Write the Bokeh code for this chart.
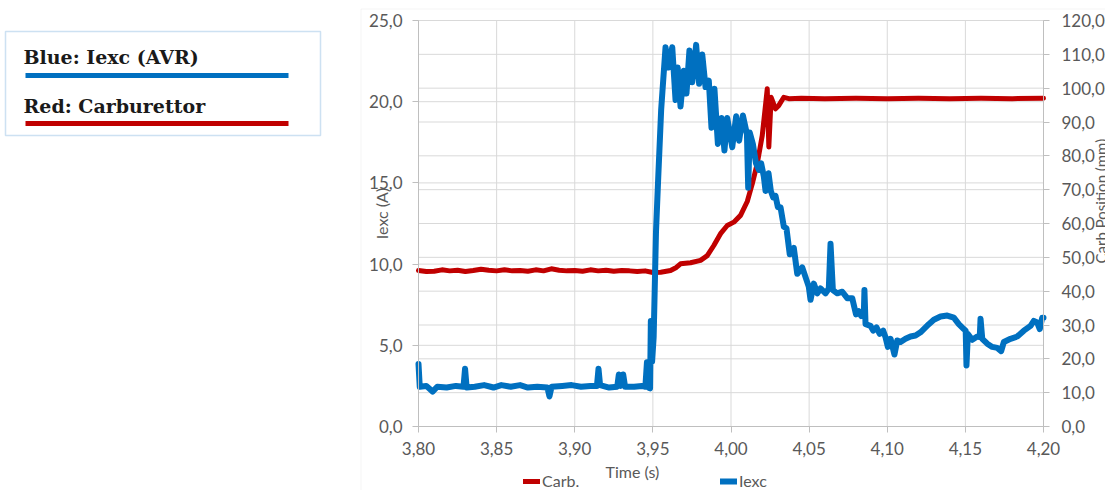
import math
from bokeh.plotting import figure
from bokeh.models import (Range1d, LinearAxis, FixedTicker, CustomJSTickFormatter, Grid,
                          Label, BoxAnnotation, Legend, LegendItem)
from bokeh.embed import file_html
from bokeh.resources import INLINE

# ---- tick positions ----
time_ticks = [3.80, 3.85, 3.90, 3.95, 4.00, 4.05, 4.10, 4.15, 4.20]
iexc_ticks = [0, 5, 10, 15, 20, 25]
carb_ticks = [0, 10, 20, 30, 40, 50, 60, 70, 80, 90, 100, 110, 120]

# ---- excitation current (A) ----
t_iexc = [
    3.8000, 3.8008, 3.8050, 3.8090, 3.8120, 3.8180, 3.8240, 3.8288, 3.8298, 3.8308,
    3.8360, 3.8420, 3.8480, 3.8530, 3.8590, 3.8650, 3.8700, 3.8760, 3.8825, 3.8838,
    3.8852, 3.8920, 3.8980, 3.9040, 3.9100, 3.9142, 3.9152, 3.9162, 3.9220, 3.9272,
    3.9282, 3.9295, 3.9310, 3.9322, 3.9380, 3.9430, 3.9452, 3.9462, 3.9472, 3.9482,
    3.9487, 3.9495, 3.9505, 3.9520, 3.9535, 3.9553, 3.9566, 3.9581, 3.9600, 3.9624,
    3.9645, 3.9659, 3.9677, 3.9698, 3.9715, 3.9734, 3.9752, 3.9777, 3.9796, 3.9816,
    3.9837, 3.9858, 3.9875, 3.9894, 3.9916, 3.9939, 3.9958, 3.9976, 4.0008, 4.0033,
    4.0052, 4.0076, 4.0102, 4.0110, 4.0120, 4.0140, 4.0160, 4.0178, 4.0193, 4.0210,
    4.0221, 4.0240, 4.0255, 4.0270, 4.0285, 4.0300, 4.0317, 4.0338, 4.0355, 4.0376,
    4.0402, 4.0424, 4.0456, 4.0477, 4.0498, 4.0509, 4.0530, 4.0552, 4.0573, 4.0605,
    4.0626, 4.0637, 4.0652, 4.0680, 4.0712, 4.0744, 4.0776, 4.0800, 4.0818, 4.0833,
    4.0850, 4.0854, 4.0861, 4.0893, 4.0910, 4.0931, 4.0952, 4.0974, 4.0989, 4.1004,
    4.1021, 4.1046, 4.1064, 4.1085, 4.1117, 4.1149, 4.1181, 4.1213, 4.1245, 4.1266,
    4.1298, 4.1341, 4.1384, 4.1426, 4.1458, 4.1490, 4.1502, 4.1507, 4.1516, 4.1544,
    4.1576, 4.1592, 4.1597, 4.1608, 4.1640, 4.1672, 4.1704, 4.1729, 4.1746, 4.1789,
    4.1832, 4.1874, 4.1917, 4.1938, 4.1960, 4.1976, 4.1992, 4.2000,
]
iexc = [
    3.85, 2.45, 2.50, 2.15, 2.45, 2.40, 2.50, 2.45, 3.55, 2.40,
    2.45, 2.55, 2.40, 2.55, 2.45, 2.55, 2.40, 2.45, 2.40, 1.85,
    2.45, 2.50, 2.55, 2.45, 2.50, 2.50, 3.55, 2.55, 2.40, 2.45,
    3.20, 2.50, 3.20, 2.45, 2.45, 2.50, 2.45, 3.95, 2.40, 2.35,
    6.50, 4.00, 5.50, 12.0, 15.5, 19.5, 21.3, 23.35, 22.1, 23.35,
    20.1, 22.1, 19.7, 21.9, 20.5, 23.15, 21.2, 23.5, 21.1, 22.9,
    20.9, 21.3, 18.4, 20.8, 17.4, 19.0, 17.0, 19.0, 17.2, 19.1,
    17.6, 19.15, 18.0, 14.7, 18.1, 17.4, 16.2, 15.8, 16.2, 15.4,
    14.5, 15.6, 14.5, 14.1, 14.2, 13.5, 13.5, 12.3, 12.2, 10.6,
    11.0, 9.4, 9.8, 9.2, 8.6, 7.8, 8.8, 8.2, 8.5, 8.2,
    8.5, 11.25, 8.4, 8.2, 8.3, 7.9, 7.9, 6.9, 7.1, 6.8,
    6.9, 8.4, 6.3, 6.2, 5.9, 6.1, 5.7, 5.9, 5.5, 4.9,
    5.4, 4.43, 5.3, 5.2, 5.4, 5.54, 5.6, 5.8, 6.1, 6.3,
    6.57, 6.77, 6.83, 6.7, 6.3, 6.0, 5.9, 3.76, 5.7, 5.34,
    5.54, 5.5, 6.63, 5.4, 5.1, 4.9, 4.84, 4.64, 5.2, 5.4,
    5.54, 5.9, 6.2, 6.5, 6.4, 6.0, 6.7, 6.7,
]

# ---- carburettor position (mm) ----
t_carb = [
    3.800, 3.805, 3.810, 3.815, 3.820, 3.825, 3.830, 3.835, 3.840, 3.845,
    3.850, 3.855, 3.860, 3.865, 3.870, 3.875, 3.880, 3.885, 3.890, 3.895,
    3.900, 3.905, 3.910, 3.915, 3.920, 3.925, 3.930, 3.935, 3.940, 3.945,
    3.950, 3.955, 3.9613, 3.9650, 3.9677, 3.9741, 3.9805, 3.9848, 3.9890, 3.9933,
    3.9976, 4.0018, 4.0061, 4.0104, 4.0136, 4.0168, 4.0200, 4.0232, 4.0242, 4.0257,
    4.0285, 4.0306, 4.0338, 4.0370, 4.045, 4.060, 4.080, 4.100, 4.120, 4.140,
    4.160, 4.180, 4.200,
]
carb_mm = [
    46.1, 45.8, 45.9, 46.3, 46.0, 46.2, 45.8, 46.1, 46.5, 46.2,
    46.0, 46.3, 46.0, 46.1, 45.9, 46.3, 46.0, 46.6, 46.2, 46.0,
    46.1, 45.9, 46.3, 46.0, 46.2, 45.9, 46.1, 46.0, 45.8, 46.0,
    45.5, 45.6, 46.1, 47.0, 48.1, 48.4, 49.1, 50.5, 53.5, 57.0,
    59.4, 60.4, 62.4, 66.5, 71.7, 77.7, 86.0, 99.8, 82.6, 97.3,
    93.9, 94.9, 97.3, 96.9, 97.0, 96.9, 97.0, 96.9, 97.0, 96.9,
    97.0, 96.9, 97.0,
]

BLUE = "#0070c0"
RED = "#c00000"
GRID = "#d9d9d9"
AXIS = "#bfbfbf"
TXT = "#595959"
FONT = "Lato"

# canvas size and where the plot area sits on it (pixels from top-left)
W, H = 1105, 490
PX_L, PX_R, PX_T, PX_B = 418, 1043, 20, 426

T0, T1 = time_ticks[0], time_ticks[-1]
I0, I1 = iexc_ticks[0], iexc_ticks[-1]
C0, C1 = carb_ticks[0], carb_ticks[-1]


def span(v0, v1, p0, p1, size):
    """Data range whose ends fall on canvas pixels 0 and size, given v0 at p0 and v1 at p1."""
    k = (v1 - v0) / (p1 - p0)
    return Range1d(v0 - p0 * k, v0 + (size - p0) * k)


# the frame covers the whole canvas; axes are pinned to the plot-area edges
x_rng = span(T0, T1, PX_L, PX_R, W)
y_rng = span(I0, I1, H - PX_B, H - PX_T, H)
c_rng = span(C0, C1, H - PX_B, H - PX_T, H)

p = figure(width=W, height=H, output_backend="svg", toolbar_location=None, title=None,
           x_range=x_rng, y_range=y_rng, x_axis_location=None, y_axis_location=None,
           min_border=0, min_border_left=0, min_border_right=0,
           min_border_top=0, min_border_bottom=0)
p.extra_y_ranges = {"carb": c_rng}
p.outline_line_color = None
p.background_fill_color = "white"
p.border_fill_color = "white"
# drop the default full-frame grids; grid lines are drawn only over the plot area
p.center = [r for r in p.center if not isinstance(r, Grid)]

p.segment(x0=time_ticks, y0=[I0] * len(time_ticks), x1=time_ticks, y1=[I1] * len(time_ticks),
          line_color=GRID, line_width=1)
p.segment(x0=[T0] * len(iexc_ticks), y0=iexc_ticks, x1=[T1] * len(iexc_ticks), y1=iexc_ticks,
          line_color=GRID, line_width=1)
p.segment(x0=[T0] * len(carb_ticks), y0=carb_ticks, x1=[T1] * len(carb_ticks), y1=carb_ticks,
          y_range_name="carb", line_color=GRID, line_width=1)

fmt1 = CustomJSTickFormatter(code="return tick.toFixed(1).replace('.', ',');")
fmt2 = CustomJSTickFormatter(code="return tick.toFixed(2).replace('.', ',');")


def style_axis(ax, standoff):
    ax.axis_line_color = AXIS
    ax.major_tick_line_color = AXIS
    ax.minor_tick_line_color = None
    ax.major_tick_in = 0
    ax.major_tick_out = 6
    ax.major_label_standoff = standoff
    ax.major_label_text_font = FONT
    ax.major_label_text_font_size = "17px"
    ax.major_label_text_color = TXT


xax = LinearAxis(ticker=FixedTicker(ticks=time_ticks), formatter=fmt2,
                 fixed_location=I0, bounds=(T0, T1))
style_axis(xax, 9)
p.add_layout(xax, "below")

yax = LinearAxis(ticker=FixedTicker(ticks=iexc_ticks), formatter=fmt1,
                 fixed_location=T0, bounds=(I0, I1))
style_axis(yax, 10)
p.add_layout(yax, "left")

rax = LinearAxis(y_range_name="carb", ticker=FixedTicker(ticks=carb_ticks), formatter=fmt1,
                 fixed_location=T1, bounds=(C0, C1))
style_axis(rax, 12)
p.add_layout(rax, "right")

# series
r_carb = p.line(t_carb, carb_mm, y_range_name="carb", line_color=RED, line_width=5,
                line_join="round", line_cap="round")
r_iexc = p.line(t_iexc, iexc, line_color=BLUE, line_width=6,
                line_join="round", line_cap="round")


def scr(px, py):
    """Canvas pixel (from top-left) to screen units of the frame."""
    return dict(x=px, y=H - py, x_units="screen", y_units="screen")


# bottom legend entries
for item_label, rend, left in (("Carb.", r_carb, 523), ("Iexc", r_iexc, 720)):
    leg = Legend(items=[LegendItem(label=item_label, renderers=[rend])],
                 location=(left, 0), orientation="horizontal",
                 glyph_width=17, glyph_height=18, label_height=18, label_standoff=2,
                 padding=0, margin=0, border_line_color=None, background_fill_alpha=0,
                 label_text_font=FONT, label_text_font_size="16px", label_text_color=TXT)
    p.add_layout(leg)

# axis titles
p.add_layout(Label(**scr(632, 471), text="Time (s)", text_align="center",
                   text_baseline="middle", text_font=FONT, text_font_size="16px",
                   text_color=TXT))
p.add_layout(Label(**scr(381, 213), text="Iexc (A)", angle=math.pi / 2, text_align="center",
                   text_baseline="middle", text_font=FONT, text_font_size="16px",
                   text_color=TXT))
p.add_layout(Label(**scr(1100, 263), text="Carb Position (mm)", angle=math.pi / 2,
                   text_align="left", text_baseline="middle", text_font=FONT,
                   text_font_size="15px", text_color=TXT))


def box(l, t, r, b, **kw):
    return BoxAnnotation(left=l, right=r, top=H - t, bottom=H - b,
                         left_units="screen", right_units="screen",
                         top_units="screen", bottom_units="screen", **kw)


# chart area border
p.add_layout(box(360.5, 8.5, 1130, 520, fill_alpha=0, line_color=GRID, line_width=1))

# colour key box
p.add_layout(box(5, 31, 320, 135, fill_alpha=0, line_color="#5b9bd5", line_width=1.5))
for txt, base, bar_y, col in (("Blue: Iexc (AVR)", 56, 75, BLUE),
                              ("Red: Carburettor", 105, 123, RED)):
    p.add_layout(Label(**scr(23, base), text=txt, text_align="left",
                       text_baseline="alphabetic", text_font="DejaVu Serif",
                       text_font_style="bold", text_font_size="19px", text_color="#1a1a1a"))
    p.add_layout(box(25, bar_y - 2.5, 288, bar_y + 2.5, fill_color=col, fill_alpha=1,
                     line_alpha=0))

open("out.html", "w").write(file_html(p, INLINE))
